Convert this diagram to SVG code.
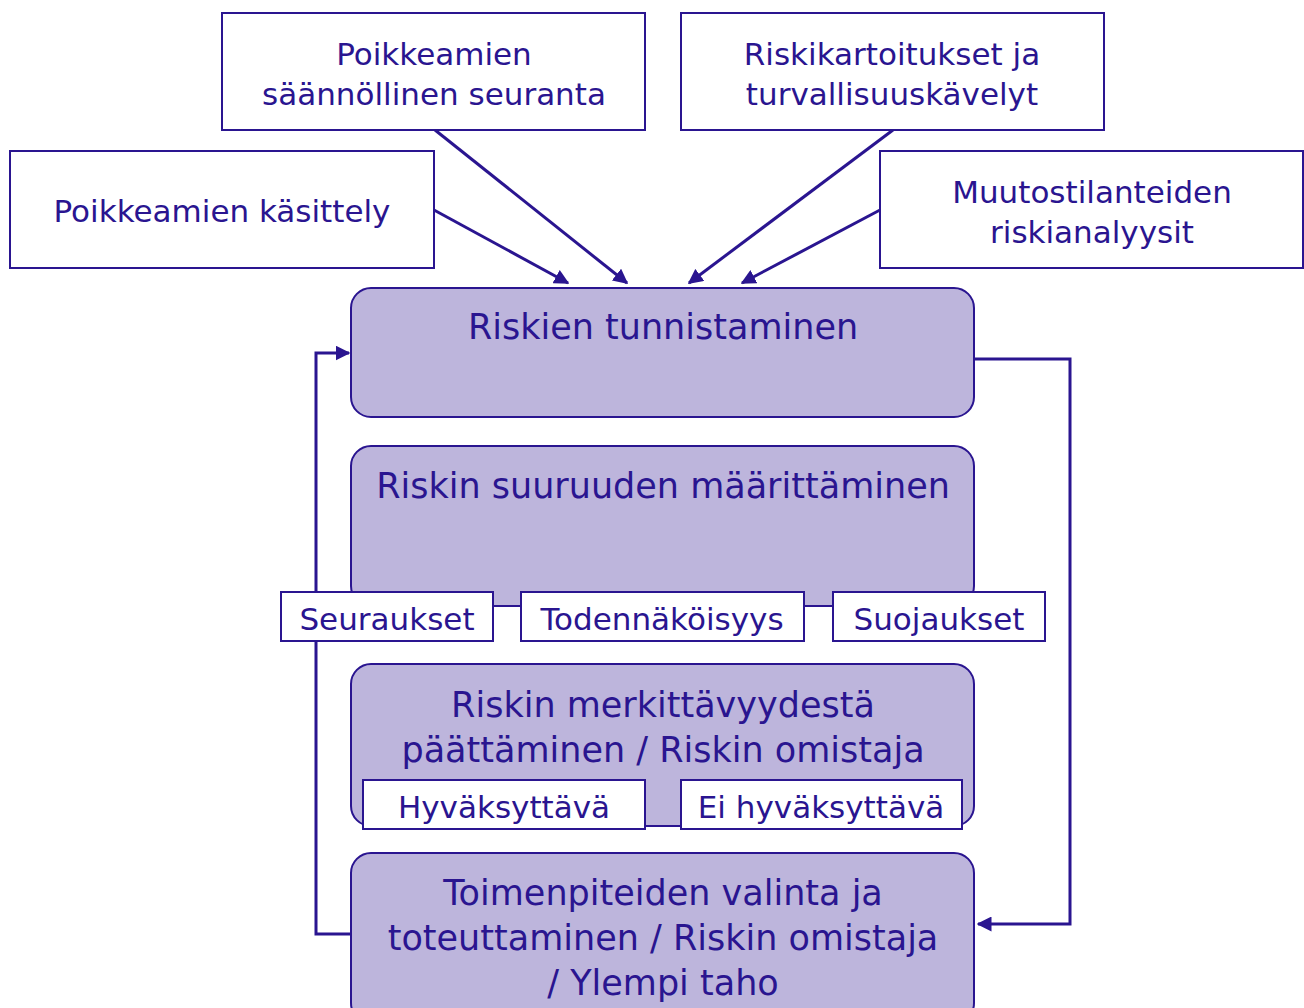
<svg xmlns="http://www.w3.org/2000/svg" width="1304" height="1008" viewBox="0 0 1304 1008">
<defs>
<marker id="ah" viewBox="0 0 10 10" refX="9" refY="5" markerWidth="5" markerHeight="5" orient="auto" markerUnits="strokeWidth">
<path d="M0,0 L10,5 L0,10 Z" fill="#2a1590"/>
</marker>
<style>
.src{fill:#fff;stroke:#2a1590;stroke-width:2}
.main{fill:#bdb5dc;stroke:#2a1590;stroke-width:2}
.tag{fill:#fff;stroke:#2a1590;stroke-width:2}
.t{font-family:"DejaVu Sans","Liberation Sans",sans-serif;fill:#2a1590;text-anchor:middle}
.s{font-size:31px}
.m{font-size:35px}
.c{stroke:#2a1590;stroke-width:3;fill:none}
</style>
</defs>
<rect width="1304" height="1008" fill="#fff"/>
<g id="connectors">
<line class="c" x1="434" y1="210" x2="568" y2="283" marker-end="url(#ah)"/>
<line class="c" x1="435" y1="130" x2="627" y2="283" marker-end="url(#ah)"/>
<line class="c" x1="893" y1="130" x2="689" y2="283" marker-end="url(#ah)"/>
<line class="c" x1="880" y1="210" x2="742" y2="283" marker-end="url(#ah)"/>
<polyline class="c" points="974,359 1070,359 1070,924 978,924" marker-end="url(#ah)"/>
<polyline class="c" points="351,934 316,934 316,353 349,353" marker-end="url(#ah)"/>
</g>
<g id="n-seuranta"><rect class="src" x="222" y="13" width="423" height="117"/>
<text class="t s" x="434" y="65">Poikkeamien</text><text class="t s" x="434" y="105">säännöllinen seuranta</text></g>
<g id="n-kartoitus"><rect class="src" x="681" y="13" width="423" height="117"/>
<text class="t s" x="892" y="65">Riskikartoitukset ja</text><text class="t s" x="892" y="105">turvallisuuskävelyt</text></g>
<g id="n-kasittely"><rect class="src" x="10" y="151" width="424" height="117"/>
<text class="t s" x="222" y="222">Poikkeamien käsittely</text></g>
<g id="n-muutos"><rect class="src" x="880" y="151" width="423" height="117"/>
<text class="t s" x="1092" y="203">Muutostilanteiden</text><text class="t s" x="1092" y="243">riskianalyysit</text></g>
<g id="n-tunnistaminen"><rect class="main" x="351" y="288" width="623" height="129" rx="20"/>
<text class="t m" x="663" y="339">Riskien tunnistaminen</text></g>
<g id="n-suuruus"><rect class="main" x="351" y="446" width="623" height="160" rx="20"/>
<text class="t m" x="663" y="498">Riskin suuruuden määrittäminen</text></g>
<g id="n-seuraukset"><rect class="tag" x="281" y="592" width="212" height="49"/>
<text class="t s" x="387" y="630">Seuraukset</text></g>
<g id="n-todennakoisyys"><rect class="tag" x="521" y="592" width="283" height="49"/>
<text class="t s" x="662" y="630">Todennäköisyys</text></g>
<g id="n-suojaukset"><rect class="tag" x="833" y="592" width="212" height="49"/>
<text class="t s" x="939" y="630">Suojaukset</text></g>
<g id="n-merkittavyys"><rect class="main" x="351" y="664" width="623" height="162" rx="20"/>
<text class="t m" x="663" y="717">Riskin merkittävyydestä</text><text class="t m" x="663" y="762">päättäminen / Riskin omistaja</text></g>
<g id="n-hyvaksyttava"><rect class="tag" x="363" y="780" width="282" height="49"/>
<text class="t s" x="504" y="818">Hyväksyttävä</text></g>
<g id="n-ei-hyvaksyttava"><rect class="tag" x="681" y="780" width="281" height="49"/>
<text class="t s" x="821" y="818">Ei hyväksyttävä</text></g>
<g id="n-toimenpiteet"><rect class="main" x="351" y="853" width="623" height="170" rx="20"/>
<text class="t m" x="663" y="905">Toimenpiteiden valinta ja</text><text class="t m" x="663" y="950">toteuttaminen / Riskin omistaja</text><text class="t m" x="663" y="995">/ Ylempi taho</text></g>
</svg>
